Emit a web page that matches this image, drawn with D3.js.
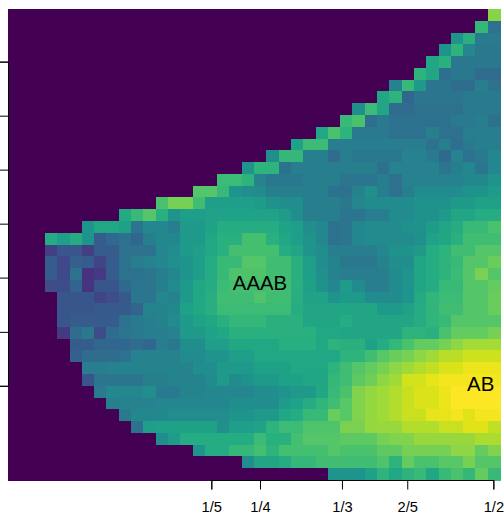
<!DOCTYPE html>
<html>
<head>
<meta charset="utf-8">
<script src="https://cdn.jsdelivr.net/npm/d3@7"></script>
<style>
  body { margin: 0; background: #fff; }
  text { font-family: "Liberation Sans", Arial, sans-serif; fill: #000; }
</style>
</head>
<body>
<svg width="504" height="514"></svg>
<script>
"use strict";

// number of empty (lowest colour) cells at the start of each row, top row first
const emptyCells = [39,38,36,35,34,33,31,30,28,27,25,23,21,19,17,15,12,9,6,3,3,3,3,3,4,4,4,4,5,5,6,6,7,8,9,10,12,15,19,26];

// the rest of each row (0-100 along the colour ramp)
const rowValues = [
  [81],
  [65,35],
  [50,62,39,39],
  [50,63,44,38,38],
  [58,62,38,38,38,38],
  [63,57,34,38,38,33,33],
  [42,66,52,37,37,33,33,40,35],
  [57,63,31,37,37,37,37,39,39,39],
  [47,67,57,33,33,36,36,36,36,39,39,39],
  [66,70,34,39,36,36,36,36,36,39,39,41,36],
  [58,70,63,39,39,39,36,36,36,41,35,35,40,41,41],
  [56,67,67,40,40,40,40,40,40,40,40,36,41,34,39,41,41],
  [47,65,65,41,41,33,41,38,38,38,38,42,42,39,32,42,36,39,44],
  [50,63,63,36,40,41,41,41,41,41,41,36,42,42,42,42,37,41,45,37,44],
  [67,67,63,42,38,38,38,41,41,41,37,37,37,41,35,42,42,42,42,42,45,45,50],
  [72,72,66,50,47,46,41,41,41,41,41,36,36,43,48,41,36,41,46,46,46,46,49,49,53],
  [70,78,78,68,54,54,54,54,53,49,47,47,41,41,41,38,44,46,46,46,46,49,49,49,52,52,55,55],
  [59,66,72,62,50,54,54,56,56,56,56,56,56,53,47,41,41,41,37,37,40,40,46,46,49,49,52,57,57,60,60],
  [50,58,58,55,37,44,44,40,52,52,56,60,60,60,60,60,56,54,47,44,36,37,44,46,46,46,49,49,53,57,60,66,66,70],
  [60,54,60,50,27,32,35,31,41,45,44,52,52,58,62,62,69,69,62,58,54,50,44,36,37,44,46,46,46,46,48,56,58,62,68,68,68],
  [17,25,25,17,27,27,35,35,36,44,47,52,54,58,62,69,69,69,69,60,57,50,47,41,40,40,40,44,49,49,52,60,63,68,68,72,72],
  [27,20,28,27,19,27,36,40,42,44,48,50,54,60,66,66,72,72,68,68,62,54,47,43,38,38,38,43,47,47,57,60,63,66,72,72,76],
  [27,20,36,13,15,27,36,36,37,41,44,50,54,60,66,71,71,71,68,68,62,54,48,43,40,40,40,40,46,50,57,60,63,67,72,79,72],
  [21,21,30,14,25,25,32,37,37,41,46,52,58,60,67,69,69,69,69,68,62,55,49,44,53,46,40,40,46,50,57,60,66,66,72,72,75],
  [25,25,25,19,22,26,37,37,44,42,52,58,61,68,68,68,71,68,68,61,56,56,50,52,52,46,46,46,50,59,64,67,67,72,72,76],
  [25,25,25,26,26,26,30,43,43,45,55,58,61,67,67,67,67,67,67,60,57,57,57,57,57,57,52,52,55,60,64,68,68,72,72,76],
  [25,27,27,27,27,36,39,41,43,46,52,56,58,62,65,65,65,62,62,62,57,57,57,60,57,57,57,57,57,60,64,66,72,72,72,72],
  [15,33,38,21,33,37,39,41,41,42,52,52,56,58,62,62,62,62,62,62,62,58,58,57,57,57,57,57,63,63,62,70,75,75,75,78],
  [27,27,31,31,31,33,31,40,38,47,47,54,54,58,58,58,58,61,61,61,58,63,62,62,55,60,65,70,75,75,78,82,86,86,86],
  [28,33,33,33,36,42,42,42,42,46,46,50,50,54,54,58,58,58,58,58,58,58,63,63,68,73,76,78,82,85,89,89,92,92,92],
  [40,40,42,42,43,43,43,43,43,47,47,52,52,52,55,55,55,58,58,58,63,68,72,75,78,82,85,88,90,94,94,97,97,97],
  [25,37,37,37,37,41,41,43,43,43,46,52,46,49,52,52,55,55,57,57,65,68,74,77,82,85,93,93,96,98,98,98,98,98],
  [39,44,44,44,47,39,39,43,43,44,44,44,44,47,47,50,52,52,58,66,70,80,83,85,88,91,94,94,97,100,100,100,100],
  [41,42,42,42,44,44,44,44,44,44,47,47,47,47,53,56,60,64,68,73,80,83,85,88,91,94,94,97,100,100,100,100],
  [39,45,45,45,47,47,47,47,47,50,50,52,52,58,60,66,66,76,73,80,83,85,88,91,91,96,96,98,95,98,98],
  [36,54,55,55,55,55,55,48,54,54,56,63,67,67,71,71,71,79,79,83,84,84,88,88,88,91,91,95,95,90],
  [47,53,60,60,60,60,60,60,67,62,62,69,72,72,72,74,74,74,78,80,80,84,84,84,84,84,87,87],
  [50,60,60,65,65,69,63,69,69,69,69,72,70,70,70,74,74,78,78,78,78,82,82,75,80],
  [47,57,57,60,65,65,68,68,68,68,68,71,63,75,70,70,73,73,78,72,72],
  [50,50,50,55,63,58,63,66,58,66,70,65,75,66]
];

// ticks given in grid cells, both axes
const xTickCells = [16.53, 20.49, 27.15, 32.46, 39.46];
const xTickLabels = ["1/5", "1/4", "1/3", "2/5", "1/2"];
const yTickCells = [4.47, 9.06, 13.64, 18.23, 22.81, 27.42, 32];

const peakNames = ["AAAB", "AB"];
const peakCols = [20.49, 38.43];
const peakRows = [23.88, 32.45];

const nCols = 40;
const nRows = 40;

const cells = [];
rowValues.forEach((vals, r) => {
    d3.range(nCols).forEach(c => {
        const v = c < emptyCells[r] ? 0 : vals[c - emptyCells[r]];
        cells.push({r: r, c: c, v: v});
    });
});

const plot = {left: 8, right: 500, top: 9, bottom: 480};

const svg = d3.select("svg");

const xBand = d3.scaleBand().domain(d3.range(nCols)).range([plot.left, plot.right]);
const yBand = d3.scaleBand().domain(d3.range(nRows)).range([plot.top, plot.bottom]);
const x = d3.scaleLinear().domain([0, nCols]).range([plot.left, plot.right]);
const y = d3.scaleLinear().domain([0, nRows]).range([plot.top, plot.bottom]);
// slight pow: the blues in the reference sit a little higher up the ramp than I read them
const color = d3.scaleSequentialPow(d3.interpolateViridis).exponent(0.95).domain([0, 100]);

svg.append("g")
    .attr("shape-rendering", "crispEdges")
  .selectAll("rect")
  .data(cells)
  .join("rect")
    .attr("x", d => xBand(d.c))
    .attr("y", d => yBand(d.r))
    .attr("width", xBand.bandwidth() + 0.5)
    .attr("height", yBand.bandwidth() + 0.5)
    .attr("fill", d => color(d.v));

// axis lines only run from first to last tick, so the axes get their own short scales
const xAxisScale = d3.scaleLinear()
    .domain(d3.extent(xTickCells))
    .range(d3.extent(xTickCells).map(x));
const yAxisScale = d3.scaleLinear()
    .domain(d3.extent(yTickCells))
    .range(d3.extent(yTickCells).map(y));

const xAxis = svg.append("g")
    .attr("transform", `translate(0,${plot.bottom})`)
    .call(d3.axisBottom(xAxisScale)
        .tickValues(xTickCells)
        .tickSizeOuter(0)
        .tickSize(9.5)
        .tickPadding(12)
        .tickFormat((d, i) => xTickLabels[i]));
xAxis.selectAll("text").style("font-size", "14.7px").style("font-family", '"Liberation Sans"');

const yAxis = svg.append("g")
    .attr("transform", `translate(${plot.left},0)`)
    .call(d3.axisLeft(yAxisScale)
        .tickValues(yTickCells)
        .tickSizeOuter(0)
        .tickSize(8)
        .tickFormat(""));

svg.selectAll(".domain, .tick line").attr("stroke", "#000");

svg.selectAll("text.peak")
    .data(peakNames)
    .join("text")
    .attr("class", "peak")
    .attr("x", (d, i) => x(peakCols[i]))
    .attr("y", (d, i) => y(peakRows[i]))
    .attr("text-anchor", "middle")
    .style("font-size", "20.4px")
    .text(d => d);
</script>
</body>
</html>
